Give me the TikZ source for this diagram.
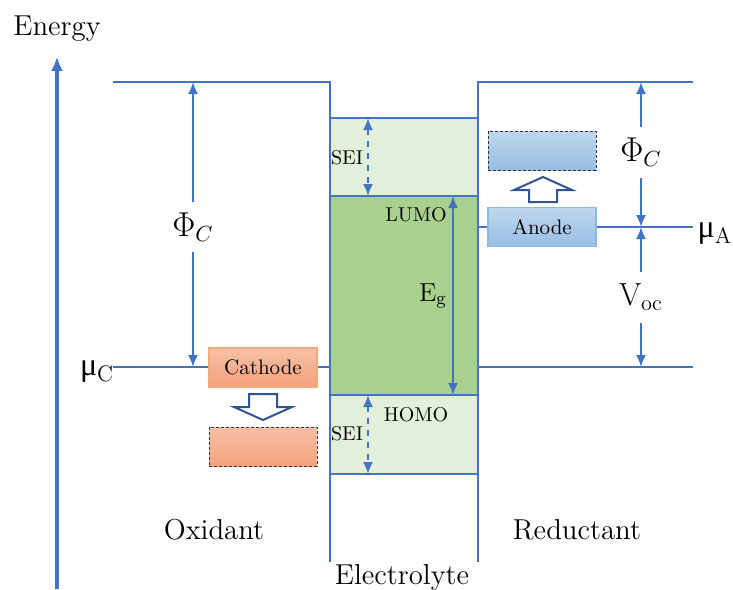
\documentclass[tikz,border=0pt]{standalone}
\usepackage{fontspec}
\newfontfamily\mufont{Liberation Serif}
\usetikzlibrary{arrows.meta}
\definecolor{lineblue}{RGB}{68,114,196}
\definecolor{seigreen}{RGB}{226,239,218}
\definecolor{gapgreen}{RGB}{169,209,142}
\definecolor{cathtop}{RGB}{247,192,166}
\definecolor{cathbot}{RGB}{244,161,124}
\definecolor{cathline}{RGB}{244,170,120}
\definecolor{anodetop}{RGB}{190,215,238}
\definecolor{anodebot}{RGB}{152,190,228}
\definecolor{anodeline}{RGB}{140,185,228}
\definecolor{hollowblue}{RGB}{47,85,151}
\tikzset{
  level/.style={lineblue, line width=0.8pt},
  wall/.style={lineblue, line width=1.2pt},
  dim/.style={lineblue, line width=1pt, -{Latex[length=6pt,width=5pt]}},
  dimboth/.style={lineblue, line width=1pt, {Latex[length=6pt,width=5pt]}-{Latex[length=6pt,width=5pt]}},
  big/.style={font=\fontsize{14.4}{17}\selectfont},
  huge/.style={font=\fontsize{16}{19}\selectfont},
  small/.style={font=\fontsize{10}{12}\selectfont},
  cathbox/.style={draw=cathline, line width=0.6pt, top color=cathtop, bottom color=cathbot,
    minimum width=54pt, minimum height=19.5pt, inner sep=0pt, font=\fontsize{10.5}{12}\selectfont},
  anodebox/.style={draw=anodeline, line width=0.6pt, top color=anodetop, bottom color=anodebot,
    minimum width=54pt, minimum height=19.5pt, inner sep=0pt, font=\fontsize{10.5}{12}\selectfont},
  ghost/.style={draw=black!80, line width=0.4pt, dash pattern=on 1.5pt off 1pt},
  hollow/.style={draw=hollowblue, line width=1pt, fill=white, line join=miter}
}
\begin{document}
\begin{tikzpicture}[x=0.5pt, y=-0.5pt]
    \useasboundingbox (0,0) rectangle (733,589);
    % electrolyte bands
    \filldraw[fill=seigreen, draw=lineblue, line width=0.8pt] (330,118) rectangle (478,196);
    \filldraw[fill=gapgreen, draw=lineblue, line width=0.8pt] (330,196) rectangle (478,395);
    \filldraw[fill=seigreen, draw=lineblue, line width=0.8pt] (330,395) rectangle (478,474);
    % levels and walls
    \draw[level] (113,367) -- (330,367);
    \draw[level] (478,367) -- (693,367);
    \draw[level] (478,227) -- (693,227);
    \draw[wall] (113,82) -- (330,82) -- (330,562);
    \draw[wall] (693,82) -- (478,82) -- (478,562);
    % energy axis
    \coordinate (axisfoot) at (57,589);
    \node[big] (energy) at (57,29) {Energy};
    \draw[lineblue, line width=1.6pt, -{Latex[length=7pt,width=6pt]}] (axisfoot) -- ([yshift=-4pt]energy.south);
    % left work function
    \coordinate (phiLtop) at (193,82);
    \coordinate (phiLbot) at (193,367);
    \node[huge, inner sep=0pt, minimum height=25pt] (phiL) at (193,227) {$\Phi_C$};
    \draw[dim] (phiL.north) -- (phiLtop);
    \draw[dim] (phiL.south) -- (phiLbot);
    \node[huge] (muC) at (97,372) {{\mufont μ}$_{\mathrm{C}}$};
    % cathode
    \node[cathbox] (cathode) at (263,367.5) {Cathode};
    \node[cathbox, ghost] (cathodeox) at (263,446.5) {};
    \draw[hollow] (249,394) -- (277,394) -- (277,407) -- (292,407) -- (263,420)
      -- (234,407) -- (249,407) -- cycle;
    % anode
    \node[anodebox] (anode) at (542,227) {Anode};
    \node[anodebox, ghost] (anodered) at (542,150.5) {};
    \draw[hollow] (529,202) -- (557,202) -- (557,190) -- (572,190) -- (543,177)
      -- (514,190) -- (529,190) -- cycle;
    % right work function and voltage
    \coordinate (phiRtop) at (641,82);
    \coordinate (phiRbot) at (641,227);
    \coordinate (vocbot) at (641,367);
    \node[huge, inner sep=0pt, minimum height=25.5pt] (phiR) at (641,152.5) {$\Phi_C$};
    \draw[dim] (phiR.north) -- (phiRtop);
    \draw[dim] (phiR.south) -- (phiRbot);
    \node[huge, inner sep=0pt, minimum height=25.5pt] (voc) at (641,297.5) {V$_{\mathrm{oc}}$};
    \draw[dim] (voc.north) -- (phiRbot);
    \draw[dim] (voc.south) -- (vocbot);
    \node[huge] (muA) at (715,234) {{\mufont μ}$_{\mathrm{A}}$};
    % band gap and SEI
    \coordinate (lumo) at (453,196);
    \coordinate (homo) at (453,395);
    \draw[dimboth] (lumo) -- (homo);
    \node[font=\fontsize{13}{15}\selectfont] (eg) at (433,296) {E$_{\mathrm{g}}$};
    \node[small] (lumolbl) at (416,215) {LUMO};
    \node[small] (homolbl) at (416,415) {HOMO};
    \coordinate (seiAtop) at (368,118);
    \coordinate (seiAbot) at (368,196);
    \coordinate (seiBtop) at (368,395);
    \coordinate (seiBbot) at (368,474);
    \draw[dimboth, dashed] (seiAtop) -- (seiAbot);
    \draw[dimboth, dashed] (seiBtop) -- (seiBbot);
    \node[small] (seiA) at (347,158) {SEI};
    \node[small] (seiB) at (347,434) {SEI};
    % region names
    \node[big] (oxidant) at (214,530) {Oxidant};
    \node[big] (reductant) at (577,530) {Reductant};
    \node[big] (electrolyte) at (402,577) {Electrolyte};
\end{tikzpicture}
\end{document}
